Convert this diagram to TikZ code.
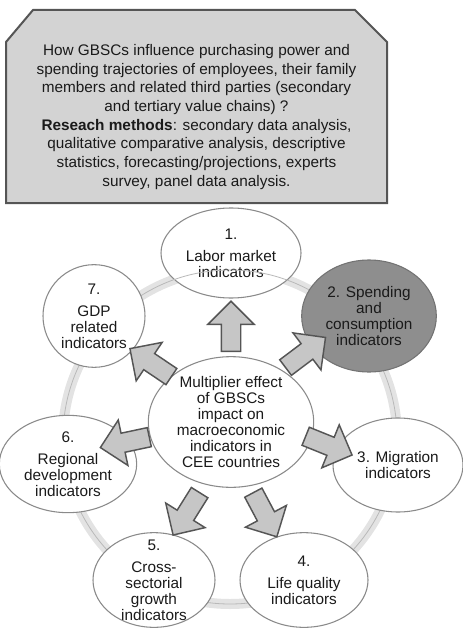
\documentclass[tikz,border=0pt]{standalone}
\usepackage{fontspec}
\setmainfont{Liberation Sans}
\usetikzlibrary{shapes.geometric,shapes.arrows}
\definecolor{boxfill}{HTML}{D3D3D3}
\definecolor{boxline}{HTML}{555555}
\definecolor{ringc}{HTML}{E3E3E3}
\definecolor{ellline}{HTML}{8A8A8A}
\definecolor{darkfill}{HTML}{8E8E8E}
\definecolor{arrfill}{HTML}{C6C6C6}
\definecolor{txt}{HTML}{1A1A1A}

\begin{document}
\begin{tikzpicture}[x=0.75pt,y=-0.75pt,font=\fontsize{11.5}{12}\selectfont,text=txt,
  ind/.style={ellipse,draw=ellline,line width=0.8pt,fill=white,inner sep=-30pt,align=center},
  blk/.style={single arrow,draw=boxline,fill=arrfill,line width=1.1pt,inner xsep=0pt,inner ysep=6.75pt,
    minimum height=37.5pt,single arrow head extend=10.1pt,single arrow tip angle=90,anchor=tail}]
  \useasboundingbox (0,0) rectangle (463,631);
  \draw[boxline,fill=boxfill,line width=1.5pt] (6,42) -- (33,10) -- (355,10) -- (387,42) -- (387,203) -- (6,203) -- cycle;
  \node[align=center,font=\fontsize{11.5}{14}\selectfont] (q) at (196.5,117)
    {How GBSCs influence purchasing power and\\ spending trajectories of employees, their family\\
     members and related third parties (secondary\\ and tertiary value chains) ?\\
     \textbf{Reseach methods}: secondary data analysis,\\ qualitative comparative analysis, descriptive\\
     statistics, forecasting/projections, experts\\ survey, panel data analysis.};
  \draw[ringc,line width=7.5pt] (230,437) circle (167);
  \node[ind,minimum width=105pt,minimum height=67.5pt] (i1) at (231,253) {1.\\[4.5pt] Labor market\\ indicators};
  \draw[gray!55,line width=0.6pt] (230,437) circle (167);
  \node[ind,fill=darkfill,draw=gray!90!black,minimum width=101pt,minimum height=84pt] (i2) at (369,316)
    {2. Spending\\ and\\ consumption\\ indicators};
  \node[ind,minimum width=97.5pt,minimum height=70.5pt] (i3) at (398,465) {3. Migration\\ indicators};
  \node[ind,minimum width=96pt,minimum height=71pt] (i4) at (304,580) {4.\\[4.5pt] Life quality\\ indicators};
  \node[ind,minimum width=91.5pt,minimum height=71pt] (i5) at (154,580) {5.\\[4.5pt] Cross-\\ sectorial\\ growth\\ indicators};
  \node[ind,minimum width=103pt,minimum height=73pt] (i6) at (68,464) {6.\\[4.5pt] Regional\\ development\\ indicators};
  \node[ind,minimum width=76.5pt,minimum height=77pt] (i7) at (94,316) {7.\\[4.5pt] GDP\\ related\\ indicators};
  \node[ind,minimum width=124pt,minimum height=98pt] (m) at (231,422)
    {Multiplier effect\\ of GBSCs\\ impact on\\ macroeconomic\\ indicators in\\ CEE countries};
  \node[blk,rotate=90] (r1) at (231,352) {};
  \node[blk,rotate=37] (r2) at (285,368) {};
  \node[blk,rotate=-22] (r3) at (305,436) {};
  \node[blk,rotate=-62] (r4) at (253,492) {};
  \node[blk,rotate=-122] (r5) at (200,492) {};
  \node[blk,rotate=192] (r6) at (150,437) {};
  \node[blk,rotate=146] (r7) at (172,377) {};
\end{tikzpicture}
\end{document}
